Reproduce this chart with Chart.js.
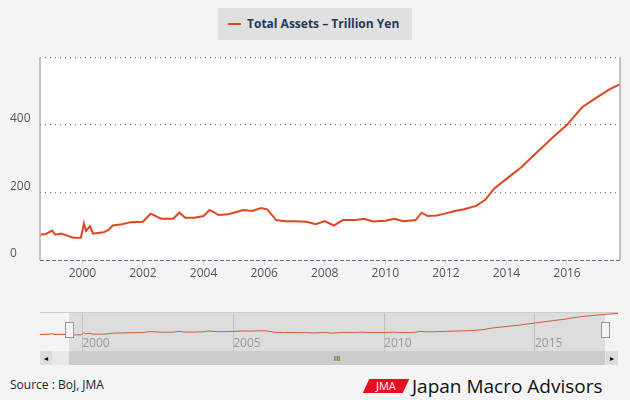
<!DOCTYPE html>
<html>
<head>
<meta charset="utf-8">
<script src="https://cdn.jsdelivr.net/npm/chart.js@4"></script>
<style>
  body { margin: 0; background: #f4f4f4; font-family: "Open Sans", sans-serif; }
  #wrap { position: relative; width: 630px; height: 400px; overflow: hidden; }
  .abs { position: absolute; }
  #legend { left: 218px; top: 8px; width: 194px; height: 32px; background: #e0e0e0; font: bold 12px "Open Sans", sans-serif; color: #23395b; line-height: 32px; }
  #legend span.ln { display: inline-block; width: 13px; height: 2px; background: #e0461e; vertical-align: middle; margin: 0 6px 2px 10px; }
  #src { left: 10px; top: 376px; font-size: 12px; color: #222; }
  #logo { left: 366px; top: 379px; width: 40px; height: 14px; background: #e8101e; color: #fff; font-size: 11px; line-height: 14px; text-align: center; transform: skewX(-25deg); }
  #logo span { display: inline-block; transform: skewX(25deg); }
  #jma { left: 412px; top: 373px; font: 19px "Open Sans", sans-serif; color: #111; }
</style>
</head>
<body>
<div id="wrap">
  <div id="legend" class="abs"><span class="ln"></span>Total Assets – Trillion Yen</div>
  <canvas id="chart" class="abs" style="left:0;top:40px;width:630px;height:240px" width="630" height="240"></canvas>
  <div class="abs" style="left:40px;top:312px;width:578px;height:1px;background:#ccc"></div>
  <canvas id="nav" class="abs" style="left:40px;top:313px;width:578px;height:38px" width="578" height="38"></canvas>
  <div class="abs" style="left:69px;top:313px;width:536px;height:38px;background:rgba(150,150,150,0.25)"></div>
  <div class="abs" style="left:65px;top:322px;width:7px;height:14px;background:#f4f4f4;border:1px solid #999"></div>
  <div class="abs" style="left:601px;top:322px;width:7px;height:14px;background:#f4f4f4;border:1px solid #999"></div>
  <div class="abs" style="left:40px;top:351px;width:578px;height:14px;background:#e8e8e8"></div>
  <div class="abs" style="left:40px;top:351px;width:12px;height:14px;background:#ddd;font-size:8px;line-height:14px;text-align:center">◂</div>
  <div class="abs" style="left:606px;top:351px;width:12px;height:14px;background:#ddd;font-size:8px;line-height:14px;text-align:center">▸</div>
  <div class="abs" style="left:69px;top:351px;width:536px;height:14px;background:#ccc;font-size:8px;line-height:14px;text-align:center;color:#333">III</div>
  <div id="src" class="abs">Source : BoJ, JMA</div>
  <div id="logo" class="abs"><span>JMA</span></div>
  <div id="jma" class="abs">Japan Macro Advisors</div>
</div>
<script>
const years = [1998.6, 1998.8, 1999.0, 1999.1, 1999.3, 1999.5, 1999.7, 1999.95, 2000.05, 2000.12, 2000.25, 2000.35, 2000.5, 2000.7, 2000.85, 2001.0,
  2001.3, 2001.6, 2002.0, 2002.25, 2002.6, 2003.0, 2003.2, 2003.4, 2003.7, 2004.0, 2004.2, 2004.5, 2004.8, 2005.0, 2005.3, 2005.6, 2005.9,
  2006.1, 2006.4, 2006.7, 2007.0, 2007.4, 2007.7, 2008.0, 2008.3, 2008.6, 2009.0, 2009.3, 2009.6, 2010.0, 2010.3, 2010.6, 2011.0, 2011.2,
  2011.4, 2011.7, 2012.0, 2012.3, 2012.6, 2013.0, 2013.3, 2013.6, 2014.0, 2014.5, 2015.0, 2015.5, 2016.0, 2016.5, 2017.0, 2017.4, 2017.75];
const assets = [75, 77, 87, 75, 78, 72, 66, 66, 108, 86, 100, 78, 80, 82, 88, 102,
  106, 112, 113, 137, 122, 122, 140, 125, 125, 130, 148, 133, 135, 140, 148, 145, 154,
  150, 118, 115, 115, 113, 106, 115, 102, 118, 118, 122, 114, 116, 122, 115, 118, 140,
  130, 132, 138, 145, 150, 160, 178, 212, 240, 275, 318, 360, 400, 452, 482, 505, 520];
const yTicks = [0, 200, 400];
const navTicks = [2000, 2005, 2010, 2015];

const pts = years.map((x, i) => ({x: x, y: assets[i]}));

const frame = {
  id: 'frame',
  beforeDraw(c) {
    const a = c.chartArea, ctx = c.ctx;
    ctx.save();
    ctx.fillStyle = '#fff';
    ctx.fillRect(a.left, a.top, a.right - a.left, a.bottom - a.top);
    ctx.restore();
  },
  afterDraw(c) {
    const a = c.chartArea, ctx = c.ctx;
    ctx.save();
    ctx.strokeStyle = '#b0b0b0';
    ctx.lineWidth = 1.5;
    ctx.beginPath();
    ctx.moveTo(a.left, a.bottom); ctx.lineTo(a.left, a.top);
    ctx.moveTo(a.right, a.top); ctx.lineTo(a.right, a.bottom);
    ctx.stroke();
    ctx.strokeStyle = '#5c6f99';
    ctx.lineWidth = 1;
    ctx.setLineDash([4, 2]);
    ctx.beginPath();
    ctx.moveTo(a.left, a.bottom + 0.5); ctx.lineTo(a.right, a.bottom + 0.5);
    ctx.stroke();
    ctx.restore();
  }
};

new Chart(document.getElementById('chart'), {
  type: 'line',
  data: { datasets: [{ data: pts, borderColor: '#e0461e', borderWidth: 2, pointRadius: 0, tension: 0 }] },
  options: {
    responsive: false, animation: false,
    layout: { padding: { top: 13, right: 10, left: 10, bottom: 0 } },
    plugins: { legend: { display: false }, tooltip: { enabled: false } },
    scales: {
      x: {
        type: 'linear', min: 1998.6, max: 2017.75,
        afterBuildTicks: s => { s.ticks = [2000, 2002, 2004, 2006, 2008, 2010, 2012, 2014, 2016].map(v => ({value: v})); },
        afterFit: s => { s.height = 20; },
        grid: { drawOnChartArea: false, drawTicks: true, tickLength: 5, color: '#c5d3ea' },
        border: { display: false },
        ticks: { color: '#555', font: { size: 12, family: 'Open Sans' }, padding: 1, callback: v => String(v) }
      },
      y: {
        min: 0, max: 600,
        afterBuildTicks: s => { s.ticks = [0, 200, 400, 600].map(v => ({value: v})); },
        afterFit: s => { s.width = 30; },
        grid: { color: '#777', drawTicks: false, lineWidth: c => c.tick.value === 0 ? 0 : 1.2 },
        border: { display: false, dash: [1, 4] },
        ticks: { color: '#555', font: { size: 12, family: 'Open Sans' }, crossAlign: 'far', padding: 10, labelOffset: -6,
          callback: v => yTicks.includes(v) ? String(v) : '' }
      }
    }
  },
  plugins: [frame]
});

new Chart(document.getElementById('nav'), {
  type: 'line',
  data: { datasets: [{ data: pts, borderColor: '#e0461e', borderWidth: 1, pointRadius: 0, tension: 0 }] },
  options: {
    responsive: false, animation: false,
    layout: { padding: 0 },
    plugins: { legend: { display: false }, tooltip: { enabled: false } },
    scales: {
      x: {
        type: 'linear', min: 1998.6, max: 2017.75,
        afterBuildTicks: s => { s.ticks = navTicks.map(v => ({value: v})); },
        afterFit: s => { s.height = 14; },
        grid: { color: '#d0d0d0', drawTicks: true, tickLength: 14 },
        border: { display: false },
        ticks: { autoSkip: false, color: '#999', font: { size: 12, family: 'Open Sans' }, align: 'start', padding: -15, callback: v => String(v) }
      },
      y: { display: false, min: 20, max: 530 }
    }
  }
});
</script>
</body>
</html>
